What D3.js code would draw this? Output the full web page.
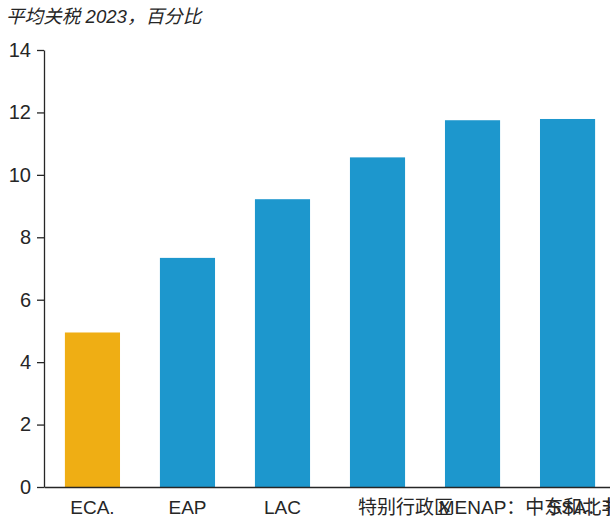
<!DOCTYPE html>
<html>
<head>
<meta charset="utf-8">
<script src="https://cdn.jsdelivr.net/npm/d3@7"></script>
<style>
  html, body { margin: 0; padding: 0; background: #fff; }
  svg { display: block; }
  text { font-family: "Liberation Sans", Arial, "Noto Sans CJK SC", sans-serif; fill: #262626; }
</style>
</head>
<body>
<svg id="chart" width="610" height="518"></svg>
<script>
// Region codes used for placement, and the labels shown under each bar
const regionCodes = ["ECA.", "EAP", "LAC", "SAR", "MENAP", "SSA"];
const regionLabels = ["ECA.", "EAP", "LAC", "特别行政区", "MENAP：中东和北非", "SSA：撒哈拉以南非洲"];
// Average tariff, 2023, percent
const tariffs = [4.95, 7.34, 9.22, 10.56, 11.75, 11.79];
const highlighted = ["ECA."];
const yTicks = [0, 2, 4, 6, 8, 10, 12, 14];
const titleText = "平均关税 2023，百分比";

const svg = d3.select("#chart");
const margin = { top: 50, left: 44, bottom: 31 };
const height = 518;
const plotBottom = height - margin.bottom;

const x = d3.scaleBand()
  .domain(regionCodes)
  .range([margin.left, 616])
  .paddingInner(0.42)
  .paddingOuter(0.22);

const y = d3.scaleLinear()
  .domain([0, 14])
  .range([plotBottom, margin.top]);

// Title
svg.append("text")
  .attr("x", 6)
  .attr("y", 23)
  .attr("font-size", 18.6)
  .attr("font-style", "italic")
  .attr("font-family", "'Liberation Sans', Arial, 'Noto Sans CJK SC', sans-serif")
  .text(titleText);

// Bars
svg.append("g")
  .selectAll("rect")
  .data(regionCodes.map((c, i) => ({ code: c, value: tariffs[i] })))
  .join("rect")
  .attr("x", d => x(d.code))
  .attr("width", x.bandwidth())
  .attr("y", d => y(d.value))
  .attr("height", d => y(0) - y(d.value))
  .attr("fill", d => highlighted.includes(d.code) ? "#EFAE14" : "#1D97CD");

// Y axis
const yAxis = svg.append("g")
  .attr("transform", `translate(${margin.left},0)`)
  .call(d3.axisLeft(y).tickValues(yTicks).tickSize(7).tickSizeOuter(0).tickPadding(6));
yAxis.select(".domain").attr("stroke", "#262626").attr("stroke-width", 1.3);
yAxis.selectAll(".tick line").attr("stroke", "#262626").attr("stroke-width", 1.3);
yAxis.selectAll(".tick text")
  .attr("font-size", 20)
  .attr("font-family", "'Liberation Sans', Arial, sans-serif")
  .attr("fill", "#262626");

// X axis: labels start where the centred region code would start
const xAxis = svg.append("g")
  .attr("transform", `translate(0,${plotBottom})`)
  .call(d3.axisBottom(x).tickSize(0).tickSizeOuter(0).tickPadding(14));
xAxis.select(".domain").attr("stroke", "#262626").attr("stroke-width", 1.3);
xAxis.selectAll(".tick text")
  .attr("font-size", 19)
  .attr("font-family", "'Liberation Sans', Arial, 'Noto Sans CJK SC', sans-serif")
  .attr("fill", "#262626")
  .each(function(code) {
    const t = d3.select(this);
    const w = this.getComputedTextLength();
    t.attr("text-anchor", "start")
      .attr("x", -w / 2)
      .text(regionLabels[regionCodes.indexOf(code)]);
  });
</script>
</body>
</html>
